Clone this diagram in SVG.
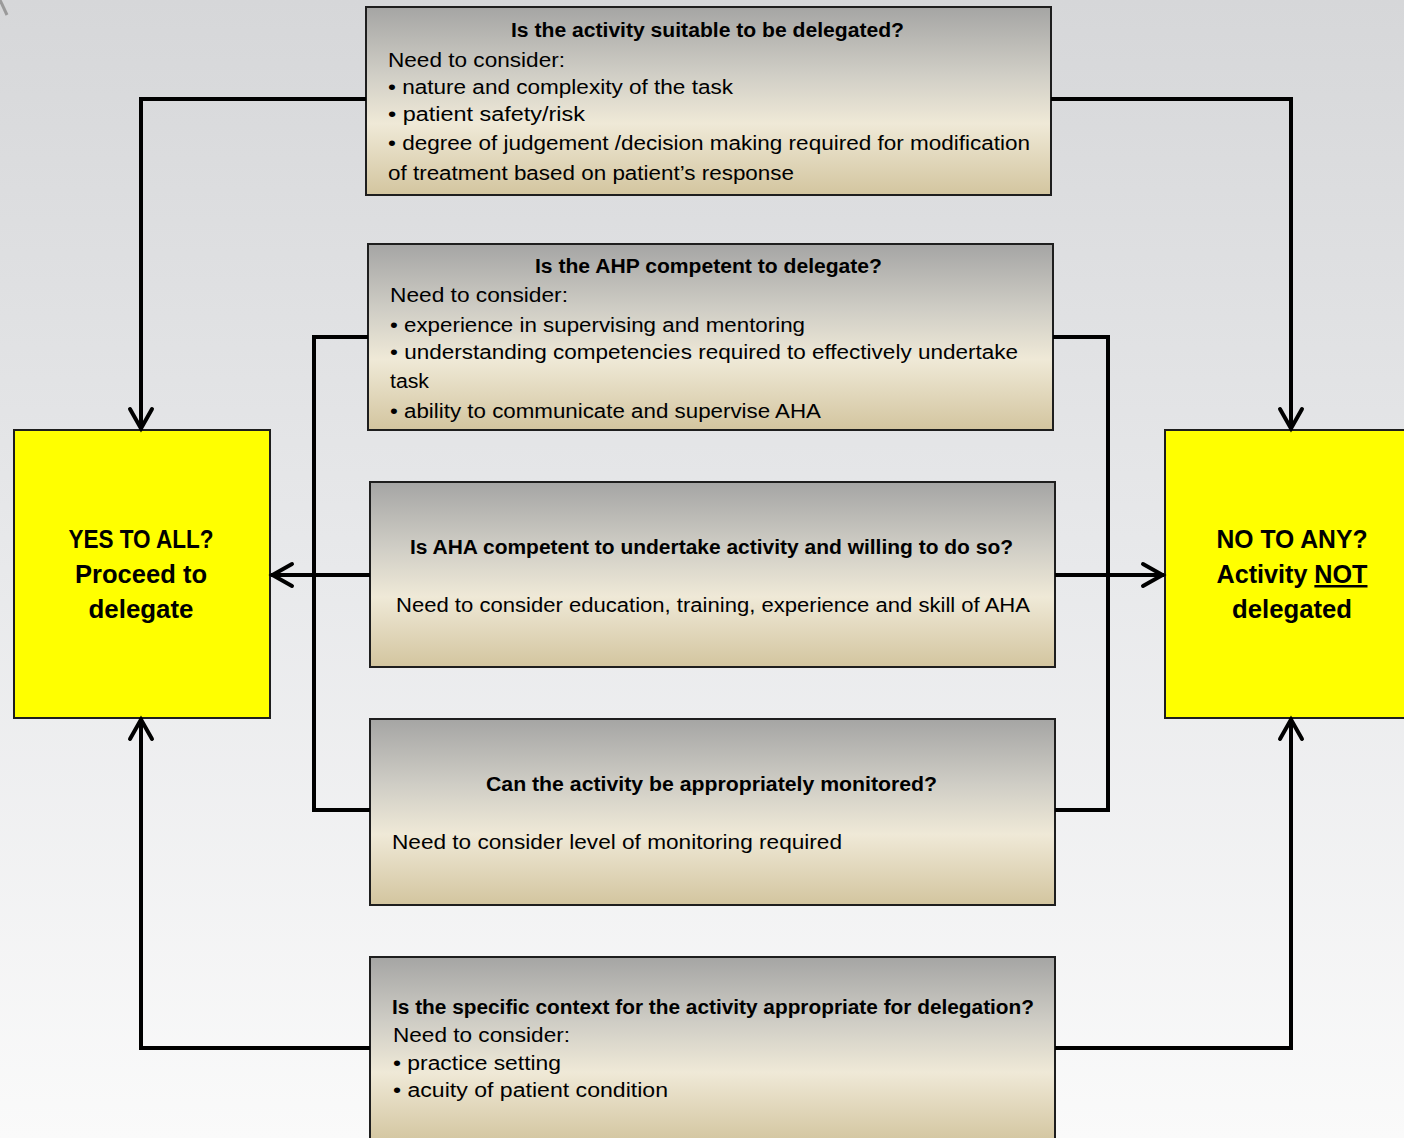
<svg xmlns="http://www.w3.org/2000/svg" width="1404" height="1138" viewBox="0 0 1404 1138">
  <defs>
    <linearGradient id="bg" x1="0" y1="0" x2="0" y2="1">
      <stop offset="0" stop-color="#d6d7d9"/>
      <stop offset="0.5" stop-color="#e8e9eb"/>
      <stop offset="1" stop-color="#fafafa"/>
    </linearGradient>
    <linearGradient id="boxfill" x1="0" y1="0" x2="0" y2="1">
      <stop offset="0" stop-color="#a5a5a4"/>
      <stop offset="0.35" stop-color="#cfcdc5"/>
      <stop offset="0.62" stop-color="#efe9d7"/>
      <stop offset="1" stop-color="#d3c59f"/>
    </linearGradient>
    <marker id="chev" markerUnits="userSpaceOnUse" markerWidth="32" markerHeight="32" viewBox="-28 -16 32 32" refX="0" refY="0" orient="auto">
      <path d="M-21,-11 L-1.5,0 L-21,11" fill="none" stroke="#000" stroke-width="4" stroke-linecap="round" stroke-linejoin="miter"/>
    </marker>
  </defs>
  <style>
    .box { fill: url(#boxfill); stroke: #1e1e1e; stroke-width: 2; }
    .yel { fill: #ffff00; stroke: #1e1e1e; stroke-width: 2; }
    .t { font-family: "Liberation Sans", Arial, sans-serif; font-size: 20px; fill: #000; }
    .b { font-family: "Liberation Sans", Arial, sans-serif; font-size: 20px; font-weight: bold; fill: #000; }
    .y { font-family: "Liberation Sans", Arial, sans-serif; font-size: 25px; font-weight: bold; fill: #000; text-anchor: middle; }
    .con { fill: none; stroke: #000; stroke-width: 4; stroke-linejoin: miter; }
  </style>
  <rect x="0" y="0" width="1404" height="1138" fill="url(#bg)"/>
  <line x1="0" y1="0" x2="7" y2="15" stroke="#9a9a9a" stroke-width="3"/>

  <g id="node-suitable">
    <rect class="box" x="366" y="7" width="685" height="188"/>
    <text class="b" x="511" y="37" textLength="393" lengthAdjust="spacingAndGlyphs">Is the activity suitable to be delegated?</text>
    <text class="t" x="388" y="67" textLength="177" lengthAdjust="spacingAndGlyphs">Need to consider:</text>
    <text class="t" x="388" y="94" textLength="345" lengthAdjust="spacingAndGlyphs">• nature and complexity of the task</text>
    <text class="t" x="388" y="121" textLength="197" lengthAdjust="spacingAndGlyphs">• patient safety/risk</text>
    <text class="t" x="388" y="150" textLength="642" lengthAdjust="spacingAndGlyphs">• degree of judgement /decision making required for modification</text>
    <text class="t" x="388" y="180" textLength="406" lengthAdjust="spacingAndGlyphs">of treatment based on patient’s response</text>
  </g>

  <g id="node-ahp">
    <rect class="box" x="368" y="244" width="685" height="186"/>
    <text class="b" x="535" y="273" textLength="347" lengthAdjust="spacingAndGlyphs">Is the AHP competent to delegate?</text>
    <text class="t" x="390" y="302" textLength="178" lengthAdjust="spacingAndGlyphs">Need to consider:</text>
    <text class="t" x="390" y="332" textLength="415" lengthAdjust="spacingAndGlyphs">• experience in supervising and mentoring</text>
    <text class="t" x="390" y="359" textLength="628" lengthAdjust="spacingAndGlyphs">• understanding competencies required to effectively undertake</text>
    <text class="t" x="390" y="388" textLength="39" lengthAdjust="spacingAndGlyphs">task</text>
    <text class="t" x="390" y="418" textLength="431" lengthAdjust="spacingAndGlyphs">• ability to communicate and supervise AHA</text>
  </g>

  <g id="node-aha">
    <rect class="box" x="370" y="482" width="685" height="185"/>
    <text class="b" x="410" y="554" textLength="603" lengthAdjust="spacingAndGlyphs">Is AHA competent to undertake activity and willing to do so?</text>
    <text class="t" x="396" y="612" textLength="634" lengthAdjust="spacingAndGlyphs">Need to consider education, training, experience and skill of AHA</text>
  </g>

  <g id="node-monitor">
    <rect class="box" x="370" y="719" width="685" height="186"/>
    <text class="b" x="486" y="791" textLength="451" lengthAdjust="spacingAndGlyphs">Can the activity be appropriately monitored?</text>
    <text class="t" x="392" y="849" textLength="450" lengthAdjust="spacingAndGlyphs">Need to consider level of monitoring required</text>
  </g>

  <g id="node-context">
    <rect class="box" x="370" y="957" width="685" height="186"/>
    <text class="b" x="392" y="1014" textLength="642" lengthAdjust="spacingAndGlyphs">Is the specific context for the activity appropriate for delegation?</text>
    <text class="t" x="393" y="1042" textLength="177" lengthAdjust="spacingAndGlyphs">Need to consider:</text>
    <text class="t" x="393" y="1070" textLength="168" lengthAdjust="spacingAndGlyphs">• practice setting</text>
    <text class="t" x="393" y="1097" textLength="275" lengthAdjust="spacingAndGlyphs">• acuity of patient condition</text>
  </g>

  <g id="node-yes">
    <rect class="yel" x="14" y="430" width="256" height="288"/>
    <text class="y" x="141" y="548" textLength="145" lengthAdjust="spacingAndGlyphs">YES TO ALL?</text>
    <text class="y" x="141" y="583" textLength="132" lengthAdjust="spacingAndGlyphs">Proceed to</text>
    <text class="y" x="141" y="618" textLength="105" lengthAdjust="spacingAndGlyphs">delegate</text>
  </g>

  <g id="node-no">
    <rect class="yel" x="1165" y="430" width="245" height="288"/>
    <text class="y" x="1292" y="548" textLength="151" lengthAdjust="spacingAndGlyphs">NO TO ANY?</text>
    <text class="y" x="1292" y="583" textLength="151" lengthAdjust="spacingAndGlyphs">Activity <tspan text-decoration="underline">NOT</tspan></text>
    <text class="y" x="1292" y="618" textLength="120" lengthAdjust="spacingAndGlyphs">delegated</text>
  </g>

  <g id="connectors">
    <path class="con" d="M366,99 H141 V430" marker-end="url(#chev)"/>
    <path class="con" d="M1051,99 H1291 V430" marker-end="url(#chev)"/>
    <path class="con" d="M368,337 H314 V810 H370"/>
    <path class="con" d="M1053,337 H1108 V810 H1055"/>
    <path class="con" d="M370,575 H271" marker-end="url(#chev)"/>
    <path class="con" d="M1055,575 H1164" marker-end="url(#chev)"/>
    <path class="con" d="M370,1048 H141 V718" marker-end="url(#chev)"/>
    <path class="con" d="M1055,1048 H1291 V718" marker-end="url(#chev)"/>
  </g>
</svg>
